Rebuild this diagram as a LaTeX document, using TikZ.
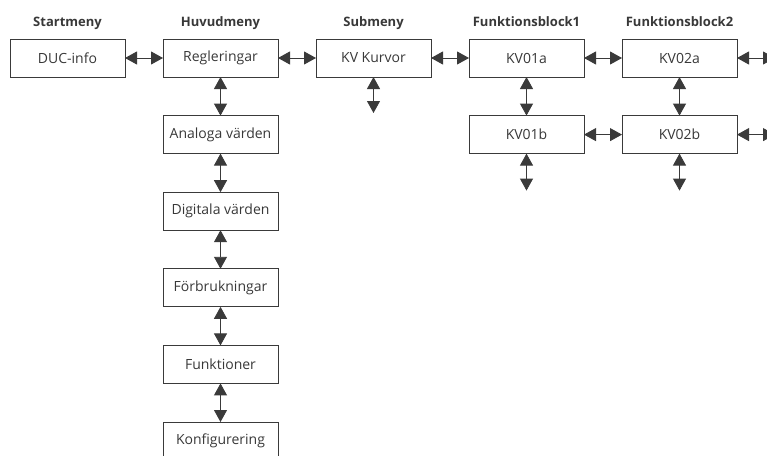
\documentclass[tikz,border=0pt]{standalone}
\usepackage{fontspec}
\setmainfont{Open Sans}
\usetikzlibrary{arrows.meta,positioning,calc}
\definecolor{mnLine}{HTML}{3A3A3A}
\definecolor{mnText}{HTML}{383838}
\tikzset{
  menubox/.style={
    draw=mnLine, line width=0.9pt, minimum width=115pt, minimum height=38pt,
    inner sep=0pt, outer sep=0pt, font=\fontsize{14}{16}\selectfont, text=mnText
  },
  menuhead/.style={font=\fontsize{13}{15}\selectfont\bfseries, text=mnText, inner sep=0pt, anchor=base},
  nav/.style={{Triangle[length=12pt,width=13pt]}-{Triangle[length=12pt,width=13pt]}, line width=0.9pt, mnLine}
}

\begin{document}
\begin{tikzpicture}[x=1pt, y=-1pt, node distance=38.6pt and 38pt]
  \useasboundingbox (0,0) rectangle (767,455);
  \clip (0,0) rectangle (767,455);
  % top row
  \node[menubox] (duc) at (67.5,58) {DUC-info};
  \node[menubox, right=of duc] (regl) {Regleringar};
  \node[menubox, right=of regl] (kvk) {KV Kurvor};
  \node[menubox, right=of kvk] (kv1a) {KV01a};
  \node[menubox, right=of kv1a] (kv2a) {KV02a};
  % column headings
  \node[menuhead] (hStart) at ($(duc.north)+(0,13pt)$) {Startmeny};
  \node[menuhead] (hHuvud) at ($(regl.north)+(0,13pt)$) {Huvudmeny};
  \node[menuhead] (hSub) at ($(kvk.north)+(0,13pt)$) {Submeny};
  \node[menuhead] (hFb1) at ($(kv1a.north)+(0,13pt)$) {Funktionsblock1};
  \node[menuhead] (hFb2) at ($(kv2a.north)+(0,13pt)$) {Funktionsblock2};
  % huvudmeny column
  \node[menubox, below=of regl] (analog) {Analoga värden};
  \node[menubox, below=of analog] (digital) {Digitala värden};
  \node[menubox, below=of digital] (forbr) {Förbrukningar};
  \node[menubox, below=of forbr] (funk) {Funktioner};
  \node[menubox, below=of funk] (konf) {Konfigurering};
  % funktionsblock, second row
  \node[menubox, below=of kv1a] (kv1b) {KV01b};
  \node[menubox, below=of kv2a] (kv2b) {KV02b};
  % open ends
  \coordinate[below=36pt of kvk] (kvkEnd);
  \coordinate[below=37pt of kv1b] (kv1bEnd);
  \coordinate[below=37pt of kv2b] (kv2bEnd);
  \coordinate[right=38pt of kv2a] (kv2aEnd);
  \coordinate[right=38pt of kv2b] (kv2bRight);
  % connectors
  \draw[nav] (duc) -- (regl);
  \draw[nav] (regl) -- (kvk);
  \draw[nav] (kvk) -- (kv1a);
  \draw[nav] (kv1a) -- (kv2a);
  \draw[nav] (kv1b) -- (kv2b);
  \draw[nav] (regl) -- (analog);
  \draw[nav] (analog) -- (digital);
  \draw[nav] (digital) -- (forbr);
  \draw[nav] (forbr) -- (funk);
  \draw[nav] (funk) -- (konf);
  \draw[nav] (kv1a) -- (kv1b);
  \draw[nav] (kv2a) -- (kv2b);
  \draw[nav] (kvk) -- (kvkEnd);
  \draw[nav] (kv1b) -- (kv1bEnd);
  \draw[nav] (kv2b) -- (kv2bEnd);
  \draw[nav] (kv2a) -- (kv2aEnd);
  \draw[nav] (kv2b) -- (kv2bRight);
\end{tikzpicture}
\end{document}
